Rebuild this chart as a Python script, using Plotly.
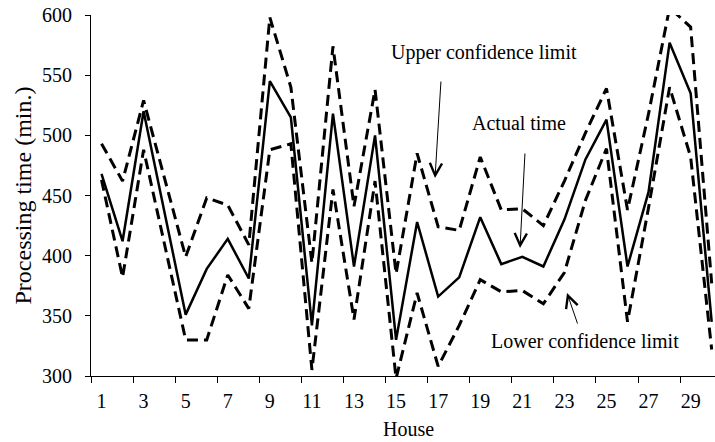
import plotly.graph_objects as go

houses = list(range(1, 31))
actual_time = [468, 412, 520, 436, 351, 389, 414, 381, 545, 515,
               342, 518, 391, 500, 330, 428, 366, 382, 432, 393,
               399, 391, 430, 480, 513, 391, 453, 577, 535, 345]
upper_limit = [493, 462, 529, 465, 399, 448, 442, 409, 598, 540,
               394, 574, 441, 538, 385, 485, 424, 421, 482, 438,
               439, 425, 462, 502, 539, 438, 518, 606, 590, 377]
lower_limit = [463, 382, 488, 409, 330, 330, 384, 356, 488, 493,
               305, 455, 347, 462, 298, 369, 308, 342, 380, 370,
               371, 360, 386, 446, 489, 345, 440, 540, 482, 322]
label_ticks = list(range(1, 30, 2))
boundary_ticks = [t - 0.5 for t in label_ticks]
y_ticks = [300, 350, 400, 450, 500, 550, 600]

FONT = "Liberation Serif"
W, H = 715, 442
L, T, B = 91, 15, 66
cat_px = 21.04
x_right = 0.5 + (W - L) / cat_px

fig = go.Figure()
dash = "11px,6px"
fig.add_trace(go.Scatter(x=houses, y=upper_limit, mode="lines",
                         line=dict(color="black", width=3, dash=dash), showlegend=False))
fig.add_trace(go.Scatter(x=houses, y=lower_limit, mode="lines",
                         line=dict(color="black", width=3, dash=dash), showlegend=False))
fig.add_trace(go.Scatter(x=houses, y=actual_time, mode="lines",
                         line=dict(color="black", width=2.5), showlegend=False))
fig.add_trace(go.Scatter(x=[1], y=[None], xaxis="x2", mode="lines",
                         showlegend=False, hoverinfo="skip"))

tickfont = dict(family=FONT, size=20, color="black")
fig.update_layout(
    width=W, height=H,
    margin=dict(l=L, r=0, t=T, b=B, pad=0),
    paper_bgcolor="white", plot_bgcolor="white",
    xaxis=dict(range=[0.5, x_right], tickmode="array", tickvals=label_ticks,
               ticktext=[str(v) for v in label_ticks], ticks="", showgrid=False,
               zeroline=False, showline=True, linecolor="black", linewidth=1,
               tickfont=tickfont, ticklabelstandoff=7),
    xaxis2=dict(overlaying="x", matches="x", anchor="y", side="bottom",
                tickmode="array", tickvals=boundary_ticks, ticks="outside",
                ticklen=6, tickwidth=1, tickcolor="black", showticklabels=False,
                showgrid=False, zeroline=False, showline=False),
    yaxis=dict(range=[300, 600], tickmode="array", tickvals=y_ticks,
               ticks="outside", ticklen=5, tickwidth=1, tickcolor="black",
               showgrid=False, zeroline=False, showline=True, linecolor="black",
               linewidth=1, tickfont=tickfont, ticklabelstandoff=9),
    font=dict(family=FONT, color="black"),
)

def px2x(px):
    return 1 + (px - 101.5) / cat_px

def py2y(py):
    return 600 - (py - 15) / 1.2033

ann_font = dict(family=FONT, size=20, color="black")
texts = [
    ("Upper confidence limit", 484, 52),
    ("Actual time", 519, 123),
    ("Lower confidence limit", 585, 341),
]
for txt, cx, cy in texts:
    fig.add_annotation(x=px2x(cx), y=py2y(cy), xref="x", yref="y", text=txt,
                       showarrow=False, font=ann_font, xanchor="center", yanchor="middle")

arrows = [((441, 80), (435, 178)), ((525, 152), (520, 248)), ((578, 325), (567, 293))]
for (tx, ty), (hx, hy) in arrows:
    fig.add_annotation(x=px2x(hx), y=py2y(hy), xref="x", yref="y",
                       ax=px2x(tx), ay=py2y(ty), axref="x", ayref="y",
                       text="", showarrow=True, arrowhead=5, arrowsize=2.4,
                       arrowwidth=1, arrowcolor="black", standoff=0)

fig.add_annotation(x=(408 - L) / (W - L), y=-(441 - 376) / (H - T - B), xref="paper", yref="paper",
                   text="House", showarrow=False, font=dict(family=FONT, size=20, color="black"),
                   xanchor="center", yanchor="bottom", borderpad=0)
fig.add_annotation(x=(22 - L) / (W - L), y=0.5, xref="paper", yref="paper",
                   text="Processing time (min.)", textangle=-90, showarrow=False,
                   font=dict(family=FONT, size=24, color="black"),
                   xanchor="center", yanchor="middle")

fig.write_html("out.html")
